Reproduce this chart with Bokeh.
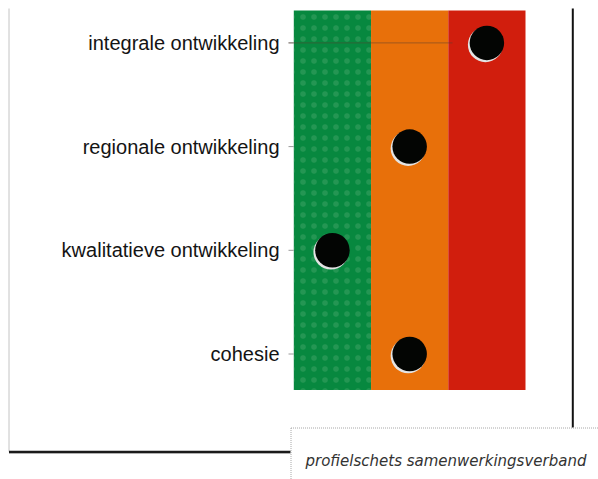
from bokeh.plotting import figure
from bokeh.models import Range1d, ColumnDataSource
from bokeh.core.properties import value
from bokeh.transform import dodge
from bokeh.embed import file_html
from bokeh.resources import INLINE

# ---- data ----
categories = ["integrale ontwikkeling", "regionale ontwikkeling",
              "kwalitatieve ontwikkeling", "cohesie"]
scores = [2.5, 1.5, 0.5, 1.5]
band_starts = [0, 1, 2]
band_ends = [1, 2, 3]
band_colors = ["#07883f", "#e8700a", "#d11e0d"]
caption = "profielschets samenwerkingsverband"

# ---- layout (canvas pixels) ----
W, H = 598, 479
FRAME_L, FRAME_R = 293.3, 525.0          # band area left/right
PX_X = (FRAME_R - FRAME_L) / (band_ends[-1] - band_starts[0])
ROW0_Y, ROW_STEP = 353.5, 103.7          # canvas y of bottom row, row spacing
BAND_TOP, BAND_BOTTOM = 10.0, 389.5

n = len(categories)
rows = [n - 1 - i for i in range(n)]

x_range = Range1d(-FRAME_L / PX_X, (W - FRAME_L) / PX_X)
y_range = Range1d((ROW0_Y - H) / ROW_STEP, ROW0_Y / ROW_STEP)

p = figure(width=W, height=H, x_range=x_range, y_range=y_range,
           x_axis_type=None, y_axis_type=None,
           output_backend="svg", toolbar_location=None, min_border=0)
p.outline_line_color = None
p.background_fill_color = "white"
p.border_fill_color = "white"
p.extra_x_ranges = {"px": Range1d(0, W)}
p.extra_y_ranges = {"px": Range1d(H, 0)}

# bands
bsrc = ColumnDataSource(dict(left=band_starts, right=band_ends,
                             color=band_colors,
                             hatch=[".", " ", " "]))
p.quad(left="left", right="right", top=BAND_TOP, bottom=BAND_BOTTOM,
       fill_color="color", line_color=None, source=bsrc,
       hatch_pattern="hatch", hatch_color="#6fb98a", hatch_alpha=0.28,
       hatch_scale=11, y_range_name="px")

# tick marks
p.segment(x0=288, x1=FRAME_L, y0=rows, y1=rows, line_color="#9a9a9a",
          line_width=1, x_range_name="px")
# faint line on first row
p.segment(x0=[288], x1=[452], y0=[rows[0]], y1=[rows[0]],
          line_color="#5a4030", line_alpha=0.5, line_width=1,
          x_range_name="px")

# category labels
lsrc = ColumnDataSource(dict(x=[279] * n, y=rows, text=categories))
p.text(x="x", y="y", text="text", source=lsrc, x_range_name="px",
       text_align="right", text_baseline="middle",
       text_font=value("Liberation Sans"), text_font_size=value("20px"),
       text_color="#141414")

# dots
dsrc = ColumnDataSource(dict(x=scores, y=rows))
p.scatter(x=dodge("x", -1.5 / PX_X), y=dodge("y", -1.8 / ROW_STEP),
          size=35, fill_color="#e4e4e4", line_color=None, source=dsrc)
p.scatter(x="x", y="y", size=34.5, fill_color="#030503",
          line_color=None, source=dsrc)

# frame decoration
p.segment(x0=[8.5], x1=[8.5], y0=[8], y1=[451], line_color="#c4c4c4",
          line_width=1, x_range_name="px", y_range_name="px")
p.segment(x0=[8.5], x1=[290], y0=[452.5], y1=[452.5], line_color="#b0b0b0",
          line_width=2, x_range_name="px", y_range_name="px")
p.segment(x0=[8.5], x1=[290], y0=[451.3], y1=[451.3], line_color="#1a1a1a",
          line_width=2.2, x_range_name="px", y_range_name="px")
p.segment(x0=[572.3], x1=[572.3], y0=[8], y1=[427], line_color="#111111",
          line_width=2, x_range_name="px", y_range_name="px")
p.segment(x0=[290.5, 290.5], x1=[598, 290.5], y0=[427.5, 427.5],
          y1=[427.5, 479], line_color="#a8a8a8", line_width=1,
          line_dash="1 1", x_range_name="px", y_range_name="px")

# caption
p.text(x=[305], y=[460], text=[caption], x_range_name="px",
       y_range_name="px", text_align="left", text_baseline="alphabetic",
       text_font=value("DejaVu Sans"), text_font_style="italic",
       text_font_size=value("15px"), text_color="#333333")

open("out.html", "w").write(file_html(p, INLINE))
